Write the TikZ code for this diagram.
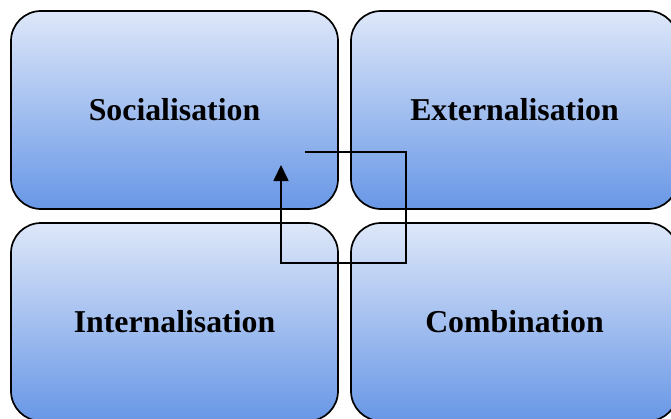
\documentclass[tikz,border=0pt]{standalone}
\usepackage{fontspec}
\setmainfont{Liberation Serif}
\usepackage{tikz}
\usetikzlibrary{arrows.meta}
\definecolor{boxtop}{RGB}{222,231,249}
\definecolor{boxmid}{RGB}{180,200,242}
\definecolor{boxbot}{RGB}{104,151,230}

\begin{document}
\begin{tikzpicture}[x=1pt,y=-1pt,
		mode/.style={draw,line width=1.7pt,rounded corners=30pt,
			minimum width=327pt,minimum height=198pt,
			top color=boxtop,middle color=boxmid,bottom color=boxbot,
			font=\fontsize{31.8}{38}\selectfont\bfseries}]
		\clip (0,0) rectangle (671,418);
		\begin{scope}
			\node[mode] (S) at (174.5,110) {Socialisation};
			\node[mode] (E) at (514.5,110) {Externalisation};
			\node[mode] (I) at (174.5,322) {Internalisation};
			\node[mode] (C) at (514.5,322) {Combination};
		
			\coordinate (start) at (305,152);
			\coordinate (tip) at (281,165);
		
			\draw[line width=1.7pt,-{Triangle[length=16pt,width=15pt]}]
				(start) -| (406,263) -| (tip);
		\end{scope}
	\end{tikzpicture}
\end{document}
